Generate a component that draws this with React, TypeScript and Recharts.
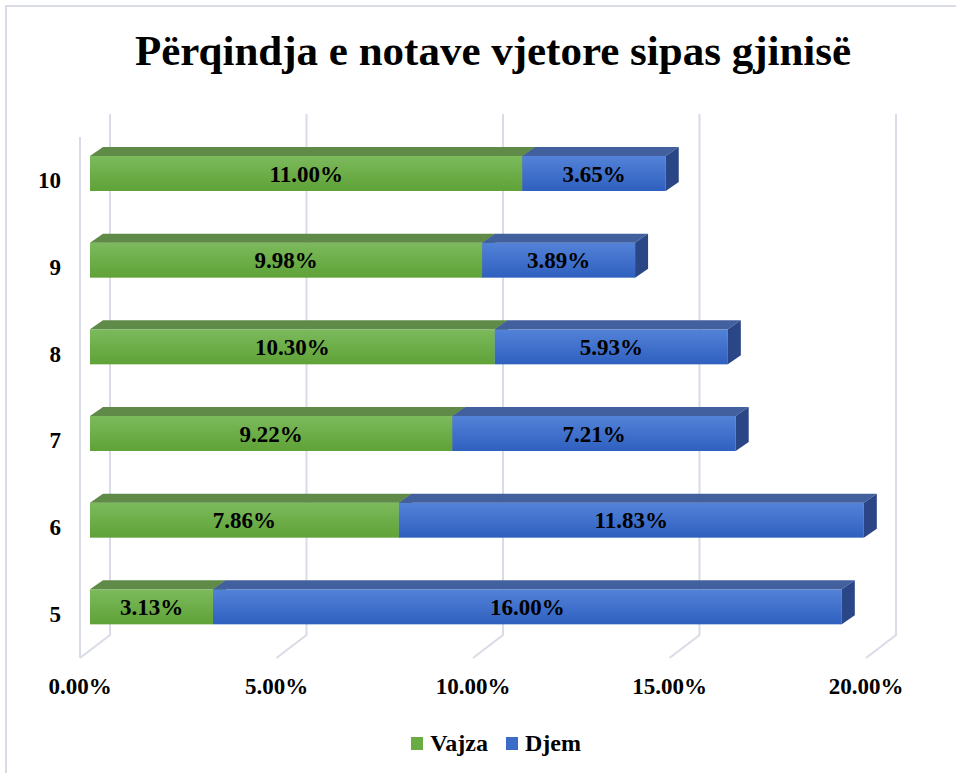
import React from 'react';
import { BarChart, Bar, XAxis, YAxis, CartesianGrid, LabelList, Legend, Customized } from 'recharts';

const categories = ['5', '6', '7', '8', '9', '10'];
const vajzaValues = [3.13, 7.86, 9.22, 10.3, 9.98, 11.0];
const djemValues = [16.0, 11.83, 7.21, 5.93, 3.89, 3.65];
const xTicks = [0, 5, 10, 15, 20];
const seriesNames = ['Vajza', 'Djem'];
const title = 'Përqindja e notave vjetore sipas gjinisë';

const data = categories.map((c, i) => ({ name: c, vajza: vajzaValues[i], djem: djemValues[i] }));

const FONT = '"Liberation Serif", "Times New Roman", serif';
const DX = 13;
const DY = -9;
const GRID = '#d9dce6';

const makeShape = (front: string, top: string, side: string) => (props: any) => {
  const { x, y, width, height } = props;
  if (width == null || width <= 0) return <g />;
  return (
    <g>
      <rect x={x} y={y} width={width} height={height} fill={front} />
      <polygon points={`${x},${y} ${x + DX},${y + DY} ${x + width + DX},${y + DY} ${x + width},${y}`} fill={top} />
      <polygon points={`${x + width},${y} ${x + width + DX},${y + DY} ${x + width + DX},${y + height + DY} ${x + width},${y + height}`} fill={side} />
    </g>
  );
};

const greenShape = makeShape('url(#gFront)', '#5f8a47', '#4b7a30');
const blueShape = makeShape('url(#bFront)', '#42609e', '#2b4686');

const GridLine = (props: any) => {
  const { x1, y2, index } = props;
  const x = x1;
  const bottom = y2 - 15;
  return (
    <g key={`g${index}`}>
      <path d={`M${x + 20},114 L${x + 20},${bottom} L${x - 10},${bottom + 23}`} stroke={GRID} strokeWidth={2} fill="none" />
      {index === 0 ? <path d={`M${x - 10},137 L${x - 10},${bottom + 23}`} stroke={GRID} strokeWidth={2} fill="none" /> : null}
    </g>
  );
};

const XTick = (props: any) => {
  const { x, y, payload } = props;
  return (
    <text x={x - 10} y={y + 36} textAnchor="middle" fontFamily={FONT} fontWeight="bold" fontSize={23} fill="#000">
      {`${Number(payload.value).toFixed(2)}%`}
    </text>
  );
};

const YTick = (props: any) => {
  const { x, y, payload } = props;
  return (
    <text x={x - 21} y={y + 15} textAnchor="end" fontFamily={FONT} fontWeight="bold" fontSize={23} fill="#000">
      {payload.value}
    </text>
  );
};

const LegendContent = () => (
  <div style={{ display: 'flex', justifyContent: 'center', alignItems: 'center', height: 30, fontFamily: FONT, fontWeight: 'bold', fontSize: 24, paddingLeft: 36 }}>
    <span style={{ display: 'inline-block', width: 12, height: 13, background: '#6aac44', marginRight: 7 }} />
    <span style={{ marginRight: 18 }}>{seriesNames[0]}</span>
    <span style={{ display: 'inline-block', width: 12, height: 13, background: '#3d6cc8', marginRight: 7 }} />
    <span>{seriesNames[1]}</span>
  </div>
);

const Title = () => (
  <text x={493} y={65} textAnchor="middle" fontFamily={FONT} fontWeight="bold" fontSize={43} fill="#000">
    {title}
  </text>
);

const fmt = (v: any) => `${Number(v).toFixed(2)}%`;

export default function App() {
  return (
    <div style={{ position: 'absolute', left: 0, top: 0, width: 956, height: 773, background: '#fff' }}>
      <div style={{ position: 'absolute', left: 5, top: 5, right: 0, bottom: 0, borderTop: `2px solid ${GRID}`, borderLeft: `2px solid ${GRID}` }} />
      <div style={{ position: 'absolute', left: 0, top: 0 }}>
        <BarChart width={956} height={773} data={data} layout="vertical" margin={{ top: 130, right: 80, left: 0, bottom: 48 }} barCategoryGap={0} barSize={35}>
          <defs>
            <linearGradient id="gFront" x1="0" y1="0" x2="0" y2="1">
              <stop offset="0%" stopColor="#7cba5c" />
              <stop offset="100%" stopColor="#5fa237" />
            </linearGradient>
            <linearGradient id="bFront" x1="0" y1="0" x2="0" y2="1">
              <stop offset="0%" stopColor="#5382d8" />
              <stop offset="100%" stopColor="#2f60bf" />
            </linearGradient>
          </defs>
          <Customized component={Title} />
          <CartesianGrid horizontal={false} vertical={GridLine} />
          <XAxis type="number" domain={[0, 20]} ticks={xTicks} axisLine={false} tickLine={false} tick={XTick} height={45} interval={0} />
          <YAxis type="category" dataKey="name" reversed axisLine={false} tickLine={false} tick={YTick} width={90} />
          <Legend verticalAlign="bottom" content={LegendContent} wrapperStyle={{ position: 'absolute', left: 0, top: 728, width: 956, height: 30 }} />
          <Bar dataKey="vajza" name={seriesNames[0]} stackId="a" shape={greenShape} isAnimationActive={false}>
            <LabelList dataKey="vajza" position="center" formatter={fmt} style={{ fontFamily: FONT, fontWeight: 'bold', fontSize: 23, fill: '#000' }} />
          </Bar>
          <Bar dataKey="djem" name={seriesNames[1]} stackId="a" shape={blueShape} isAnimationActive={false}>
            <LabelList dataKey="djem" position="center" formatter={fmt} style={{ fontFamily: FONT, fontWeight: 'bold', fontSize: 23, fill: '#000' }} />
          </Bar>
        </BarChart>
      </div>
    </div>
  );
}
